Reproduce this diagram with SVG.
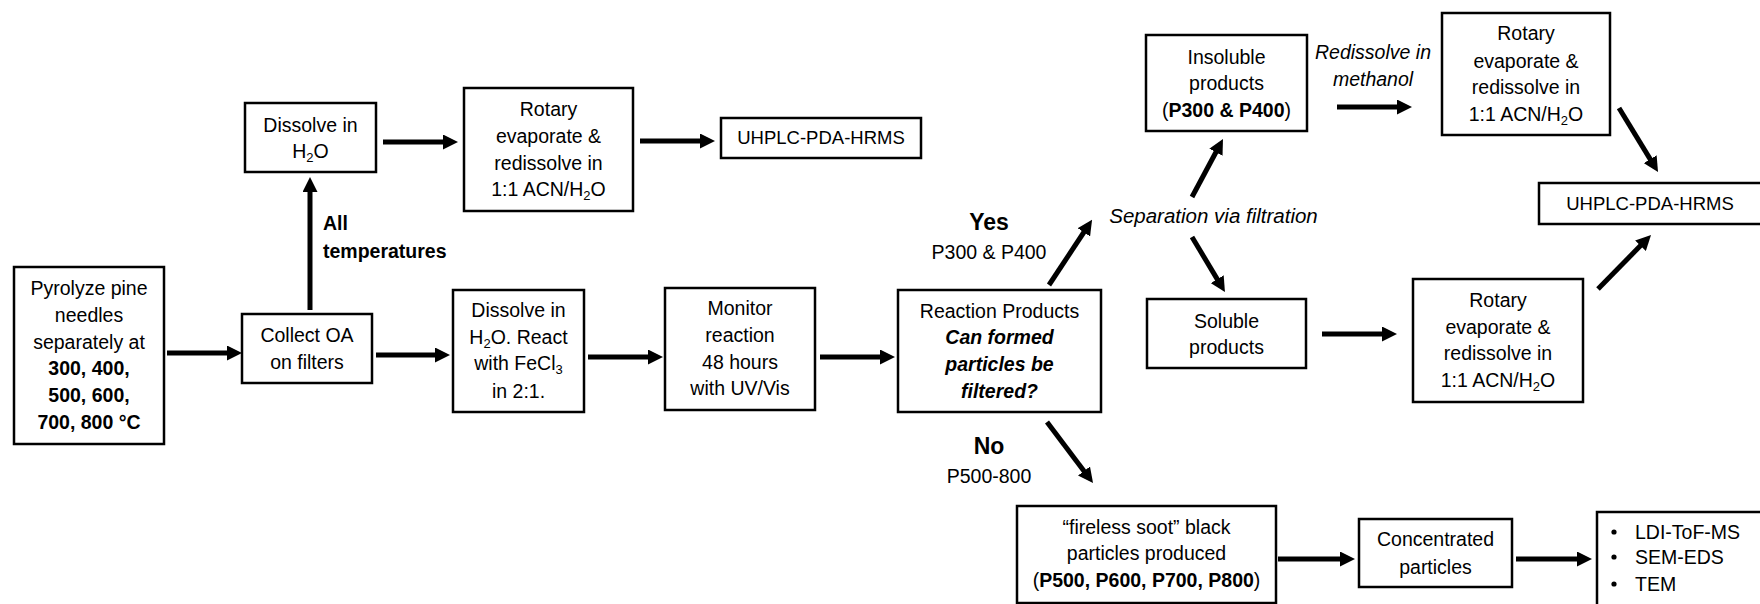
<svg xmlns="http://www.w3.org/2000/svg" width="1760" height="604" viewBox="0 0 1760 604">
<style>
.box{fill:#fff;stroke:#000;stroke-width:2.5}
text{font-family:"Liberation Sans",Arial,sans-serif;font-size:19.5px;fill:#000}
.c{text-anchor:middle}
.b{font-weight:bold}
.i{font-style:italic}
.bi{font-weight:bold;font-style:italic}
.u{font-size:18.5px}
.big{font-size:23px;font-weight:bold}
.sub{font-size:13px}
.arr{stroke:#000;stroke-width:5;fill:none;marker-end:url(#ah)}
</style>
<defs>
<marker id="ah" markerUnits="userSpaceOnUse" markerWidth="15" markerHeight="15" refX="4" refY="7.5" orient="auto">
<path d="M0,0 L15,7.5 L0,15 Z" fill="#000"/>
</marker>
</defs>
<rect width="1760" height="604" fill="#fff"/>

<g id="connectors">
<line class="arr" x1="167" y1="353" x2="231" y2="353"/>
<line class="arr" x1="310" y1="310" x2="310" y2="188"/>
<line class="arr" x1="383" y1="142" x2="447" y2="142"/>
<line class="arr" x1="640" y1="141" x2="704" y2="141"/>
<line class="arr" x1="376" y1="355" x2="439" y2="355"/>
<line class="arr" x1="588" y1="357" x2="652" y2="357"/>
<line class="arr" x1="820" y1="357" x2="884" y2="357"/>
<line class="arr" x1="1049" y1="285" x2="1086" y2="229"/>
<line class="arr" x1="1192" y1="237" x2="1219.3" y2="282.6"/>
<line class="arr" x1="1192" y1="197" x2="1217.8" y2="148.7"/>
<line class="arr" x1="1337" y1="107" x2="1401" y2="107"/>
<line class="arr" x1="1619" y1="108" x2="1652.3" y2="162.6"/>
<line class="arr" x1="1598" y1="289" x2="1643.3" y2="242.8"/>
<line class="arr" x1="1322" y1="334" x2="1386" y2="334"/>
<line class="arr" x1="1047" y1="422" x2="1086.4" y2="474.2"/>
<line class="arr" x1="1278" y1="559" x2="1344" y2="559"/>
<line class="arr" x1="1516" y1="559" x2="1581" y2="559"/>
</g>

<g id="labels">
<text class="b" x="323" y="230">All</text>
<text class="b" x="323" y="258">temperatures</text>
<text class="big c" x="989" y="230">Yes</text>
<text class="c" x="989" y="259">P300 &amp; P400</text>
<text class="big c" x="989" y="454">No</text>
<text class="c" x="989" y="483">P500-800</text>
<text class="i c" x="1213.5" y="223" style="font-size:20.5px">Separation via filtration</text>
<text class="i c" x="1373" y="59">Redissolve in</text>
<text class="i c" x="1373" y="86">methanol</text>
</g>

<g id="pyrolyze">
<rect class="box" x="14" y="267" width="150" height="177"/>
<text class="c" x="89" y="295">Pyrolyze pine</text>
<text class="c" x="89" y="322">needles</text>
<text class="c" x="89" y="349">separately at</text>
<text class="c b" x="89" y="375">300, 400,</text>
<text class="c b" x="89" y="402">500, 600,</text>
<text class="c b" x="89" y="429">700, 800 °C</text>
</g>

<g id="collect">
<rect class="box" x="242" y="314" width="130" height="69"/>
<text class="c" x="307" y="342">Collect OA</text>
<text class="c" x="307" y="369">on filters</text>
</g>

<g id="dissolve1">
<rect class="box" x="245" y="103" width="131" height="69"/>
<text class="c" x="310.5" y="132">Dissolve in</text>
<text class="c" x="310.5" y="158">H<tspan class="sub" dy="4">2</tspan><tspan dy="-4">O</tspan></text>
</g>

<g id="rotary1">
<rect class="box" x="464" y="88" width="169" height="123"/>
<text class="c" x="548.5" y="116">Rotary</text>
<text class="c" x="548.5" y="143">evaporate &amp;</text>
<text class="c" x="548.5" y="170">redissolve in</text>
<text class="c" x="548.5" y="196">1:1 ACN/H<tspan class="sub" dy="4">2</tspan><tspan dy="-4">O</tspan></text>
</g>

<g id="uhplc1">
<rect class="box" x="721" y="118" width="200" height="40"/>
<text class="c u" x="821" y="144">UHPLC-PDA-HRMS</text>
</g>

<g id="dissolve2">
<rect class="box" x="453" y="290" width="131" height="122"/>
<text class="c" x="518.5" y="317">Dissolve in</text>
<text class="c" x="518.5" y="344">H<tspan class="sub" dy="4">2</tspan><tspan dy="-4">O. React</tspan></text>
<text class="c" x="518.5" y="370">with FeCl<tspan class="sub" dy="4">3</tspan></text>
<text class="c" x="518.5" y="398">in 2:1.</text>
</g>

<g id="monitor">
<rect class="box" x="665" y="288" width="150" height="122"/>
<text class="c" x="740" y="315">Monitor</text>
<text class="c" x="740" y="342">reaction</text>
<text class="c" x="740" y="369">48 hours</text>
<text class="c" x="740" y="395">with UV/Vis</text>
</g>

<g id="reaction">
<rect class="box" x="898" y="290" width="203" height="122"/>
<text class="c" x="999.5" y="318">Reaction Products</text>
<text class="c bi" x="999.5" y="344">Can formed</text>
<text class="c bi" x="999.5" y="371">particles be</text>
<text class="c bi" x="999.5" y="398">filtered?</text>
</g>

<g id="insoluble">
<rect class="box" x="1146" y="35" width="161" height="96"/>
<text class="c" x="1226.5" y="64">Insoluble</text>
<text class="c" x="1226.5" y="90">products</text>
<text class="c" x="1226.5" y="117">(<tspan class="b">P300 &amp; P400</tspan>)</text>
</g>

<g id="rotary2">
<rect class="box" x="1442" y="13" width="168" height="122"/>
<text class="c" x="1526" y="40">Rotary</text>
<text class="c" x="1526" y="68">evaporate &amp;</text>
<text class="c" x="1526" y="94">redissolve in</text>
<text class="c" x="1526" y="121">1:1 ACN/H<tspan class="sub" dy="4">2</tspan><tspan dy="-4">O</tspan></text>
</g>

<g id="uhplc2">
<rect class="box" x="1539" y="183" width="223" height="41"/>
<text class="c u" x="1650" y="210">UHPLC-PDA-HRMS</text>
</g>

<g id="soluble">
<rect class="box" x="1147" y="299" width="159" height="69"/>
<text class="c" x="1226.5" y="328">Soluble</text>
<text class="c" x="1226.5" y="354">products</text>
</g>

<g id="rotary3">
<rect class="box" x="1413" y="279" width="170" height="123"/>
<text class="c" x="1498" y="307">Rotary</text>
<text class="c" x="1498" y="334">evaporate &amp;</text>
<text class="c" x="1498" y="360">redissolve in</text>
<text class="c" x="1498" y="387">1:1 ACN/H<tspan class="sub" dy="4">2</tspan><tspan dy="-4">O</tspan></text>
</g>

<g id="fireless">
<rect class="box" x="1017" y="506" width="259" height="97"/>
<text class="c" x="1146.5" y="534">“fireless soot” black</text>
<text class="c" x="1146.5" y="560">particles produced</text>
<text class="c" x="1146.5" y="587">(<tspan class="b">P500, P600, P700, P800</tspan>)</text>
</g>

<g id="concentrated">
<rect class="box" x="1359" y="519" width="153" height="68"/>
<text class="c" x="1435.5" y="546">Concentrated</text>
<text class="c" x="1435.5" y="574">particles</text>
</g>

<g id="methods">
<rect class="box" x="1597" y="512" width="170" height="100"/>
<circle cx="1614" cy="532" r="2.6"/>
<circle cx="1614" cy="557" r="2.6"/>
<circle cx="1614" cy="584" r="2.6"/>
<text x="1635" y="539">LDI-ToF-MS</text>
<text x="1635" y="564">SEM-EDS</text>
<text x="1635" y="591">TEM</text>
</g>
</svg>
